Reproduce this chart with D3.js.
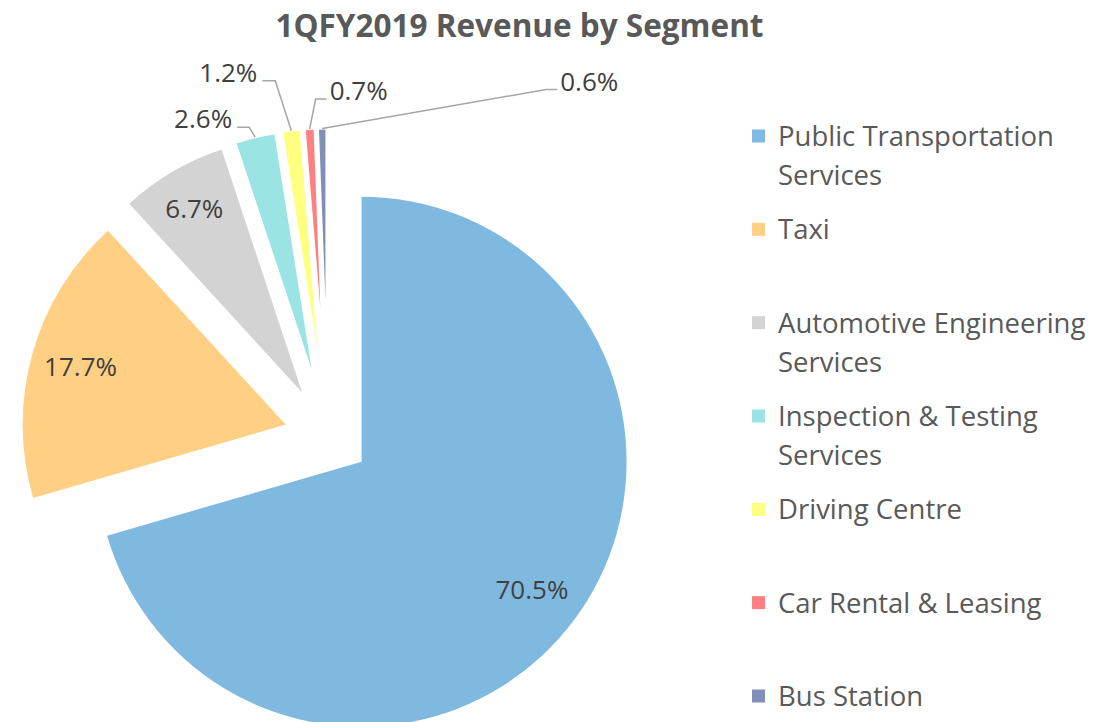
<!DOCTYPE html>
<html><head><meta charset="utf-8">
<script src="https://cdn.jsdelivr.net/npm/d3@7"></script>
<style>body{margin:0;background:#fff;} svg{display:block;font-family:"Open Sans",sans-serif;}</style>
</head><body><svg id="chart" width="1097" height="722"></svg>
<script>
// ---- data ----
const title = "1QFY2019 Revenue by Segment";
const categories = ["Public Transportation Services","Taxi","Automotive Engineering Services","Inspection & Testing Services","Driving Centre","Car Rental & Leasing","Bus Station"];
const values = [70.5,17.7,6.7,2.6,1.2,0.7,0.6];
const valueLabels = ["70.5%","17.7%","6.7%","2.6%","1.2%","0.7%","0.6%"];

// ---- styles ----
const colors = ["#80B9E0","#FFCF84","#D3D3D3","#9BE4E4","#FFFF80","#FF8080","#7F8FB5"];
const explode = [42,44,51,69,90,128,136];
const leaders = [null,null,null,
  {dx:-6,dy:-10,len:-12},
  {dx:-16,dy:-50,len:-13},
  {dx:6,dy:-30,len:11},
  {dx:224,dy:-39,len:11}];

const W=1097,H=722;
const svg=d3.select("#chart");
const cx=328, cy=436.5, R=307, insideLabelDist=213;

svg.append("text").attr("x",519.5).attr("y",37).attr("text-anchor","middle")
  .attr("font-size",31.5).attr("font-weight","bold").attr("fill","#595959").text(title);

const pieData=d3.pie().sort(null).value(d=>d)(values);
const g=svg.append("g").attr("transform",`translate(${cx},${cy})`);
const mid=d=>(d.startAngle+d.endAngle)/2;
const unit=d=>[Math.sin(mid(d)),-Math.cos(mid(d))];

g.selectAll("path.slice").data(pieData).join("path").attr("class","slice")
  .attr("d",d=>d3.arc().innerRadius(0).outerRadius(R-explode[d.index])(d))
  .attr("transform",d=>{const u=unit(d),e=explode[d.index];return `translate(${e*u[0]},${e*u[1]})`;})
  .attr("fill",d=>colors[d.index]);

// inside labels
g.selectAll("text.in").data(pieData.filter(d=>!leaders[d.index])).join("text").attr("class","in")
  .attr("x",d=>{const u=unit(d);return (explode[d.index]+insideLabelDist)*u[0];})
  .attr("y",d=>{const u=unit(d);return (explode[d.index]+insideLabelDist)*u[1];})
  .attr("text-anchor","middle").attr("dy","0.35em")
  .attr("font-size",26).attr("fill","#404040").text(d=>valueLabels[d.index]);

// outside labels with leader lines
const outs=pieData.filter(d=>leaders[d.index]);
outs.forEach(d=>{
  const u=unit(d), L=leaders[d.index];
  const p0=[(R+1)*u[0],(R+1)*u[1]];
  const p1=[p0[0]+L.dx,p0[1]+L.dy];
  const p2=[p1[0]+L.len,p1[1]];
  g.append("path").attr("d",d3.line()([p0,p1,p2])).attr("fill","none")
    .attr("stroke","#A6A6A6").attr("stroke-width",1.5);
  const right=L.len<0;
  g.append("text").attr("x",p2[0]+(right?-5:3)).attr("y",p2[1]+1)
    .attr("text-anchor",right?"end":"start").attr("font-size",26).attr("fill","#404040")
    .text(valueLabels[d.index]);
});

// legend
const ly=d3.scalePoint().domain(categories).range([136,696]);
const lg=svg.append("g");
const maxW=318;
categories.forEach((c,i)=>{
  const y=ly(c);
  lg.append("rect").attr("x",752).attr("y",y-6.5).attr("width",13).attr("height",13).attr("fill",colors[i]);
  const t=lg.append("text").attr("x",778).attr("y",y+10).attr("font-size",27.5).attr("fill","#595959");
  const words=c.split(" ");
  let line=[];
  let ts=t.append("tspan").attr("x",778).attr("dy",0);
  words.forEach(w=>{
    line.push(w); ts.text(line.join(" "));
    if(ts.node().getComputedTextLength()>maxW && line.length>1){
      line.pop(); ts.text(line.join(" "));
      line=[w];
      ts=t.append("tspan").attr("x",778).attr("dy",39).text(w);
    }
  });
});
</script></body></html>
